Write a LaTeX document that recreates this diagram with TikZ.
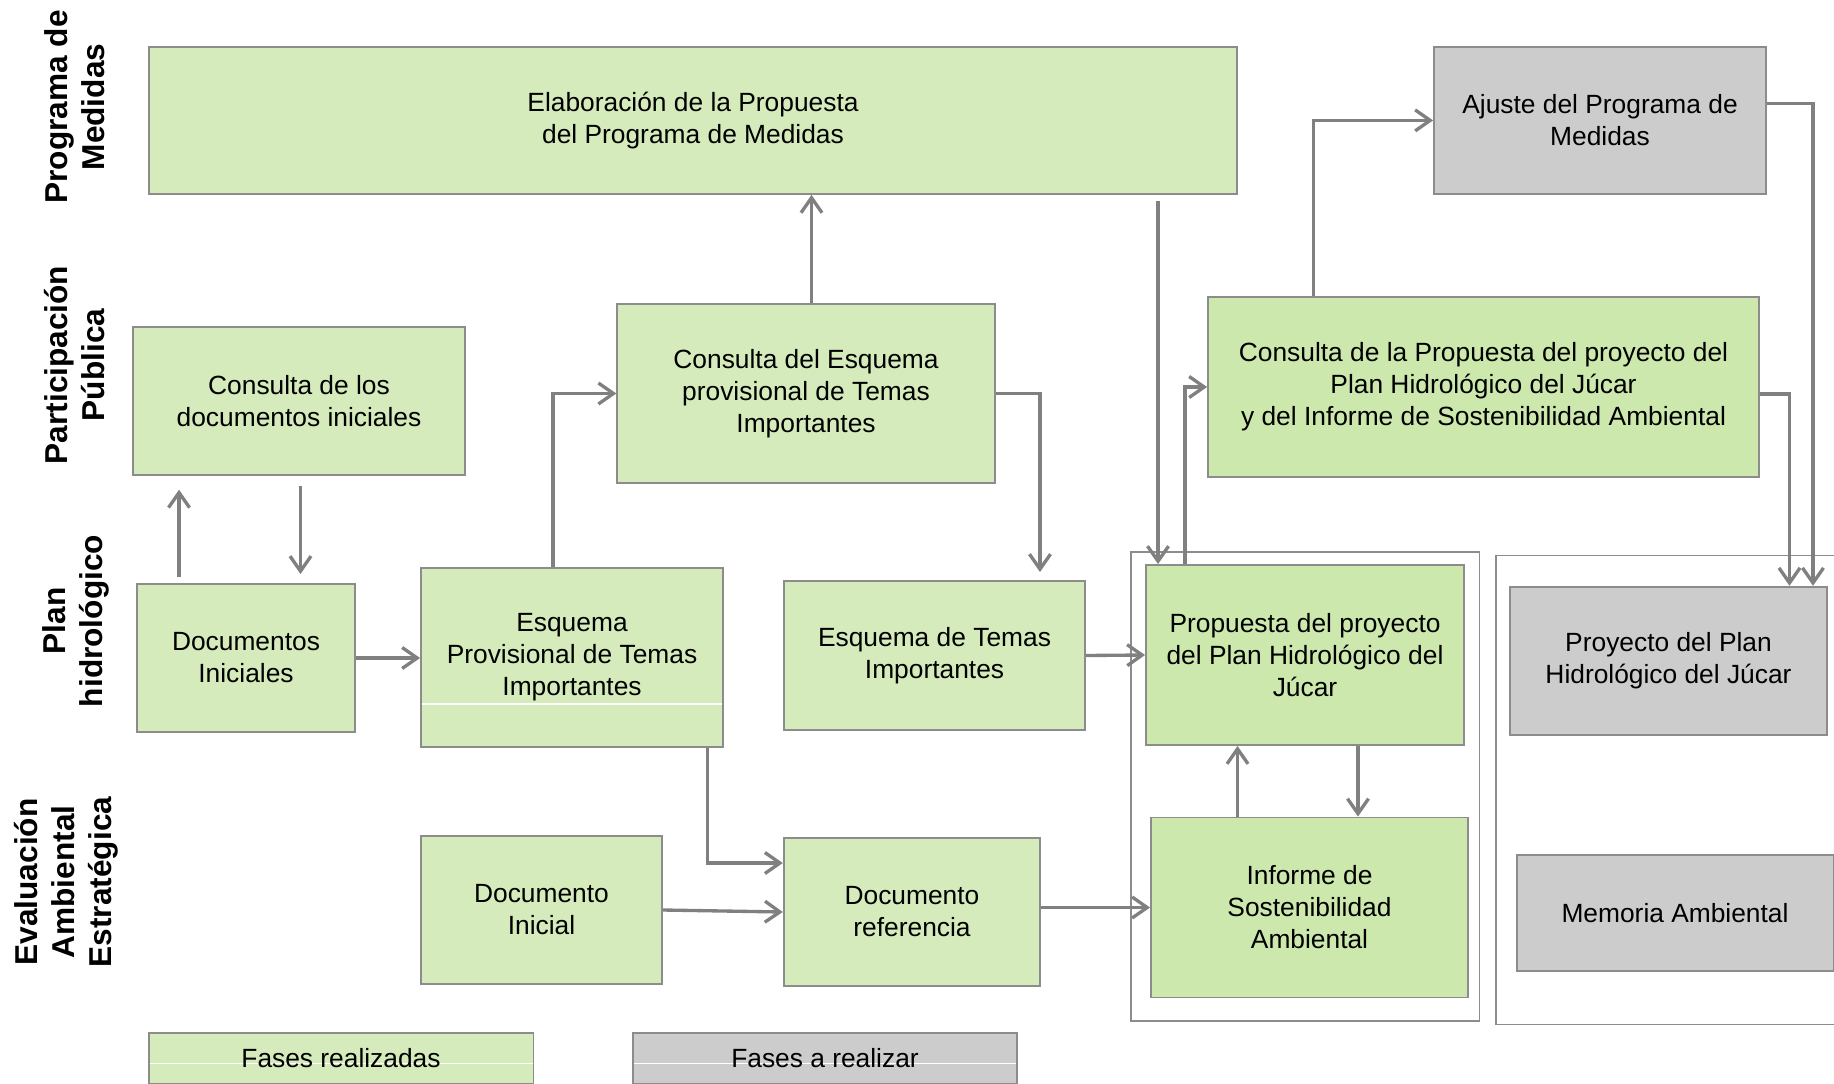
\documentclass[tikz,border=0pt]{standalone}
\usepackage{fontspec}
\setmainfont{Liberation Sans}
\usepackage{tikz}
\usetikzlibrary{arrows.meta}

\definecolor{verdeclaro}{HTML}{D5EBBB}
\definecolor{verdefase}{HTML}{CCE8AD}
\definecolor{grisfase}{HTML}{CCCCCC}
\definecolor{borde}{HTML}{8C8C8C}
\definecolor{flecha}{HTML}{808080}

\tikzset{
  fase/.style={draw=borde, line width=1.1pt, inner sep=0pt, align=center,
    font=\fontsize{15}{18.2}\selectfont},
  hecha/.style={fase, fill=verdeclaro},
  hechab/.style={fase, fill=verdefase},
  pendiente/.style={fase, fill=grisfase},
  carril/.style={rotate=90, align=center,
    font=\fontsize{18}{21}\selectfont\bfseries},
  flow/.style={draw=flecha, line width=1.9pt,
    -{Straight Barb[length=0.3cm,width=0.42cm]}},
  marco/.style={draw=borde, line width=1.1pt},
  raya/.style={path picture={\draw[white, line width=0.8pt]
    ([yshift=#1]path picture bounding box.west) -- ([yshift=#1]path picture bounding box.east);}}
}

\begin{document}
\begin{tikzpicture}[x=0.02cm, y=-0.02cm]
    \useasboundingbox (0,0) rectangle (1834,1084);
    \clip (0,0) rectangle (1834,1084);

    % Lane titles
    \node[carril] (lanePM) at (75,107) {Programa de\\Medidas};
    \node[carril] (lanePP) at (75,365) {Participación\\Pública};
    \node[carril] (lanePH) at (76,621) {Plan\\hidrológico};
    \node[carril] (laneEAE) at (66,882) {Evaluación\\Ambiental\\Estratégica};

    % Frames round the last phases
    \draw[marco] (1131,552) rectangle (1479.5,1021);
    \draw[marco] (1496,555.5) rectangle (1860,1024.5);

    % Programa de Medidas
    \node[hecha, minimum width=21.78cm, minimum height=2.94cm] (elab) at (693,120.4)
        {Elaboración de la Propuesta\\del Programa de Medidas};
    \node[pendiente, minimum width=6.64cm, minimum height=2.94cm] (ajuste) at (1600,120.4)
        {Ajuste del Programa de\\Medidas};

    % Participacion publica
    \node[hecha, minimum width=6.65cm, minimum height=2.95cm] (consIni) at (299,401)
        {Consulta de los\\documentos iniciales};
    \node[hecha, minimum width=7.55cm, minimum height=3.58cm] (consEsq) at (806,393.5)
        {Consulta del Esquema\\provisional de Temas\\Importantes};
    \node[hechab, minimum width=11.02cm, minimum height=3.6cm] (consProp) at (1483.5,387)
        {Consulta de la Propuesta del proyecto del\\Plan Hidrológico del Júcar\\y del Informe de Sostenibilidad Ambiental};

    % Plan hidrologico
    \node[hecha, minimum width=4.37cm, minimum height=2.96cm] (docIni) at (246,658)
        {Documentos\\Iniciales};
    \node[hecha, raya=-0.93cm, minimum width=6.04cm, minimum height=3.58cm] (esqProv) at (572,657.5)
        {Esquema\\Provisional de Temas\\Importantes};
    \node[hecha, minimum width=6.03cm, minimum height=2.98cm] (esqTemas) at (934.5,655.5)
        {Esquema de Temas\\Importantes};
    \node[hechab, minimum width=6.36cm, minimum height=3.6cm] (propuesta) at (1305,655)
        {Propuesta del proyecto\\del Plan Hidrológico del\\Júcar};
    \node[pendiente, minimum width=6.34cm, minimum height=2.97cm] (proyecto) at (1668.5,661)
        {Proyecto del Plan\\Hidrológico del Júcar};

    % Evaluacion ambiental estrategica
    \node[hecha, minimum width=4.82cm, minimum height=2.95cm] (docInicial) at (541.5,910)
        {Documento\\Inicial};
    \node[hecha, minimum width=5.13cm, minimum height=2.95cm] (docRef) at (912,912)
        {Documento\\referencia};
    \node[hechab, minimum width=6.34cm, minimum height=3.6cm] (informe) at (1309.5,907.5)
        {Informe de\\Sostenibilidad\\Ambiental};
    \node[pendiente, minimum width=6.34cm, minimum height=2.32cm] (memoria) at (1675,913)
        {Memoria Ambiental};

    % Legend
    \node[hecha, raya=-0.1cm, minimum width=7.7cm, minimum height=1.02cm] (fasesR) at (341,1058.5)
        {Fases realizadas};
    \node[pendiente, raya=-0.1cm, minimum width=7.69cm, minimum height=1.02cm] (fasesA) at (825,1058.5)
        {Fases a realizar};

    % Connectors
    \draw[flow, shorten <=0.12cm, shorten >=0.28cm] ([xshift=-1.34cm]docIni.north)
        -- ([xshift=-1.34cm]docIni.north |- consIni.south);
    \draw[flow, shorten <=0.2cm, shorten >=0.18cm] ([xshift=0.03cm]consIni.south)
        -- ([xshift=0.03cm]consIni.south |- docIni.north);
    \draw[flow] (docIni.east) -- (esqProv.west |- docIni.east);
    \draw[flow] ([xshift=-0.38cm]esqProv.north) |- (consEsq.west);
    \draw[flow] ([xshift=0.11cm]consEsq.north) -- ([xshift=0.11cm]consEsq.north |- elab.south);
    \draw[flow, shorten >=0.16cm] (consEsq.east) -| ([xshift=2.11cm]esqTemas.north);
    \draw[flow] ([xshift=2.71cm]esqProv.south) |- ([yshift=0.98cm]docRef.west);
    \draw[flow] (docInicial.east) -- (docRef.west);
    \draw[flow] (esqTemas.east) -- (propuesta.west);
    \draw[flow] (docRef.east |- informe.west) -- (informe.west);
    \draw[flow, shorten <=0.12cm] ([xshift=-2.94cm]propuesta.north |- elab.south)
        -- ([xshift=-2.94cm]propuesta.north);
    \draw[flow] ([xshift=-2.4cm]propuesta.north) |- (consProp.west);
    \draw[flow] ([xshift=-3.4cm]consProp.north) |- (ajuste.west);
    \draw[flow] ([yshift=0.34cm]ajuste.east) -| ([xshift=2.89cm]proyecto.north);
    \draw[flow] ([yshift=-0.14cm]consProp.east) -| ([xshift=2.42cm]proyecto.north);
    \draw[flow] ([xshift=1.06cm]propuesta.south) -- ([xshift=1.06cm]propuesta.south |- informe.north);
    \draw[flow] ([xshift=-1.44cm]informe.north) -- ([xshift=-1.44cm]informe.north |- propuesta.south);
\end{tikzpicture}
\end{document}
